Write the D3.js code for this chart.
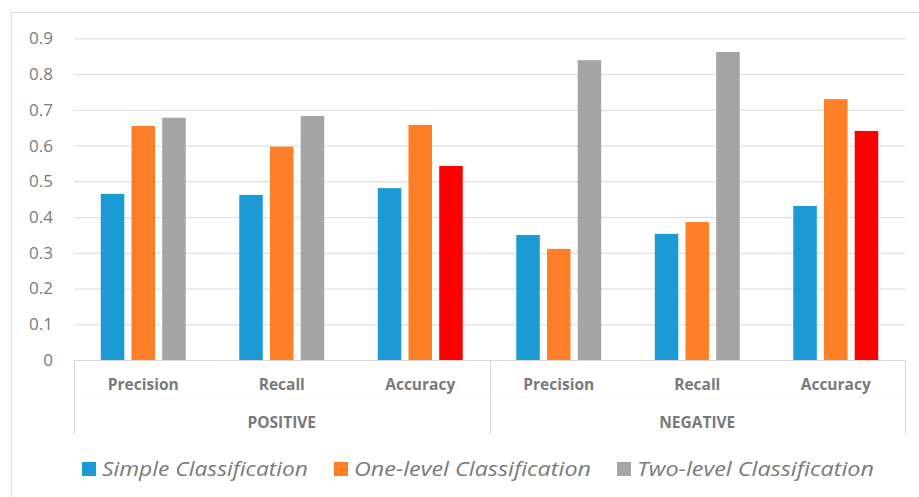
<!DOCTYPE html>
<html lang="en">
<head>
<meta charset="UTF-8">
<title>Classification results</title>
<script src="https://d3js.org/d3.v7.min.js"></script>
<style>
  body { margin: 0; background: #fff; }
  svg { display: block; font-family: "Open Sans", sans-serif; }
</style>
</head>
<body>
<script type="text/javascript">
var categories = ["Precision", "Recall", "Accuracy", "Precision", "Recall", "Accuracy"];
var groups = ["POSITIVE", "NEGATIVE"];
var seriesNames = ["Simple Classification", "One-level Classification", "Two-level Classification"];
var simpleValues = [0.465, 0.462, 0.481, 0.350, 0.353, 0.431];
var oneLevelValues = [0.655, 0.597, 0.658, 0.311, 0.386, 0.730];
var twoLevelValues = [0.678, 0.683, 0.543, 0.839, 0.862, 0.641];
var yTicks = [0, 0.1, 0.2, 0.3, 0.4, 0.5, 0.6, 0.7, 0.8, 0.9];

var colors = ["#1b9ad6", "#fe7f27", "#a5a5a5"];
var accuracyColor = "#ff0000";
var lineColor = "#d9d9d9";
var textColor = "#7a7a7a";

var W = 919, H = 497;
var margin = {top: 38.4, left: 74, right: 14, bottom: 137};
var plotRight = W - margin.right;
var plotBottom = H - margin.bottom;

// one key per bottom-level category
var keys = categories.map(function(c, i){ return i + "_" + c; });

var x = d3.scaleBand()
    .domain(keys)
    .range([margin.left, plotRight]);

var xInner = d3.scaleBand()
    .domain(d3.range(seriesNames.length))
    .range([0, x.bandwidth()])
    .paddingInner(0.234)
    .paddingOuter(0.872);

var y = d3.scaleLinear()
    .domain([0, 0.9])
    .range([plotBottom, margin.top]);

var svg = d3.select("body").append("svg")
    .attr("width", W)
    .attr("height", H);

// outer chart border
svg.append("rect")
    .attr("x", 11.5).attr("y", 12.5)
    .attr("width", W + 10).attr("height", H + 10)
    .attr("fill", "none")
    .attr("stroke", lineColor);

// gridlines
svg.append("g")
    .attr("transform", "translate(" + margin.left + ",0)")
    .call(d3.axisLeft(y).tickValues(yTicks).tickSize(-(plotRight - margin.left)).tickFormat(""))
    .call(function(g){
        g.select(".domain").remove();
        g.selectAll(".tick line").attr("stroke", lineColor);
    });

// y tick labels
svg.append("g")
    .attr("transform", "translate(53,0)")
    .call(d3.axisLeft(y).tickValues(yTicks).tickSize(0).tickPadding(0)
        .tickFormat(function(d){ return d === 0 ? "0" : d3.format(".1f")(d); }))
    .call(function(g){
        g.select(".domain").remove();
        g.selectAll("text")
            .attr("fill", textColor)
            .style("font-family", "'Open Sans', sans-serif")
            .style("font-size", "17px");
    });

// bars
var table = [];
categories.forEach(function(c, i){
    [simpleValues, oneLevelValues, twoLevelValues].forEach(function(vals, s){
        table.push({key: keys[i], cat: c, series: s, value: vals[i]});
    });
});

svg.append("g").selectAll(".bar")
    .data(table)
    .enter()
    .append("rect")
    .classed("bar", true)
    .attr("x", function(d){ return x(d.key) + xInner(d.series); })
    .attr("y", function(d){ return y(d.value); })
    .attr("width", xInner.bandwidth())
    .attr("height", function(d){ return plotBottom - y(d.value); })
    .attr("fill", function(d){
        if (d.series === 2 && d.cat === "Accuracy") return accuracyColor;
        return colors[d.series];
    });

// multi-level category axis
var axisG = svg.append("g");
var axisBottom = 434.5;

axisG.append("line")
    .attr("x1", margin.left).attr("x2", plotRight)
    .attr("y1", plotBottom + 0.5).attr("y2", plotBottom + 0.5)
    .attr("stroke", lineColor);

axisG.append("line")
    .attr("x1", margin.left).attr("x2", plotRight)
    .attr("y1", 397.5).attr("y2", 397.5)
    .attr("stroke", "#f7f7f7");

var perGroup = categories.length / groups.length;
var groupEdges = d3.range(groups.length + 1).map(function(g){
    return g === groups.length ? plotRight : x(keys[g * perGroup]);
});

axisG.selectAll(".sep")
    .data(groupEdges)
    .enter()
    .append("line")
    .classed("sep", true)
    .attr("x1", function(d){ return Math.round(d) + 0.5; })
    .attr("x2", function(d){ return Math.round(d) + 0.5; })
    .attr("y1", plotBottom)
    .attr("y2", axisBottom)
    .attr("stroke", lineColor);

axisG.selectAll(".cat-label")
    .data(keys)
    .enter()
    .append("text")
    .classed("cat-label", true)
    .attr("x", function(d){ return x(d) + x.bandwidth() / 2; })
    .attr("y", 390)
    .attr("text-anchor", "middle")
    .attr("fill", textColor)
    .style("font-weight", "bold")
    .style("font-size", "15.5px")
    .text(function(d, i){ return categories[i]; });

axisG.selectAll(".group-label")
    .data(groups)
    .enter()
    .append("text")
    .classed("group-label", true)
    .attr("x", function(d, i){ return (groupEdges[i] + groupEdges[i + 1]) / 2; })
    .attr("y", 427.5)
    .attr("text-anchor", "middle")
    .attr("fill", textColor)
    .style("font-weight", "bold")
    .style("font-size", "15.5px")
    .text(function(d){ return d; });

// legend
var legendX = [82, 334, 617];
var legendTextW = [206, 237, 237];
var legend = svg.append("g").selectAll(".legend")
    .data(seriesNames)
    .enter()
    .append("g")
    .classed("legend", true)
    .attr("transform", function(d, i){ return "translate(" + legendX[i] + ",0)"; });

legend.append("rect")
    .attr("x", 0).attr("y", 462)
    .attr("width", 14).attr("height", 14)
    .attr("fill", function(d, i){ return colors[i]; });

legend.append("text")
    .attr("x", 20)
    .attr("y", 476)
    .attr("fill", textColor)
    .attr("textLength", function(d, i){ return legendTextW[i]; })
    .attr("lengthAdjust", "spacingAndGlyphs")
    .style("font-style", "italic")
    .style("font-size", "20px")
    .text(function(d){ return d; });
</script>
</body>
</html>
